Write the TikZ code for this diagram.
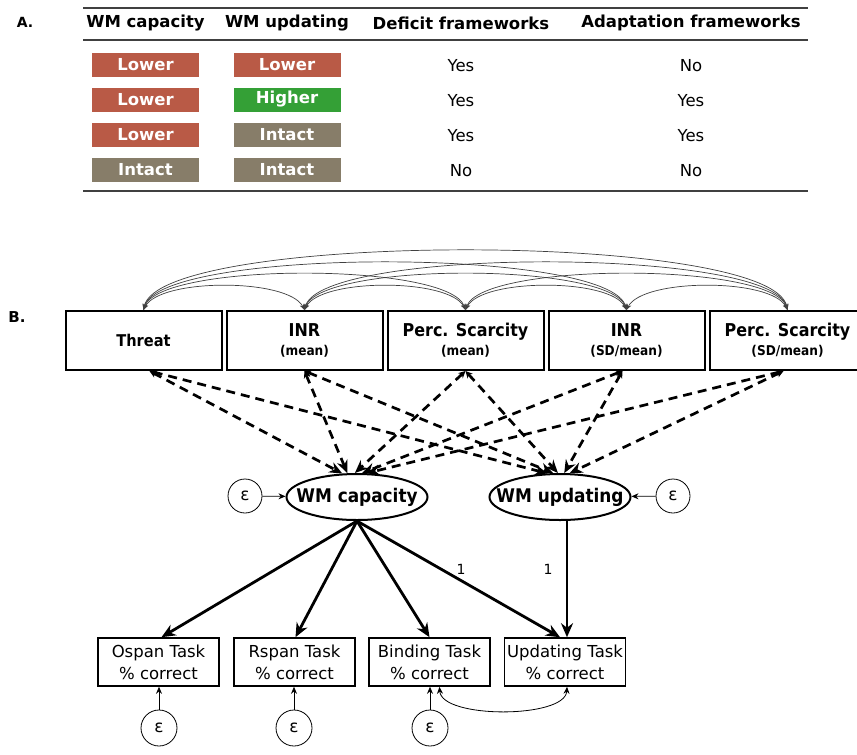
\documentclass[tikz,border=0pt]{standalone}
\usepackage{fontspec}
\setmainfont{DejaVu Sans}
\newfontfamily\condf{DejaVu Sans Condensed}
\usetikzlibrary{shapes.geometric,arrows.meta}
\definecolor{lowc}{HTML}{B95A46}
\definecolor{highc}{HTML}{34A036}
\definecolor{intc}{HTML}{877D69}
\definecolor{rulec}{HTML}{404040}
\begin{document}
\begin{tikzpicture}[x=1pt,y=-1pt,
  cell/.style={fill=#1,minimum width=107pt,minimum height=24pt,inner sep=0pt,text=white,font=\fontsize{16.5}{16.5}\selectfont\bfseries},
  hdr/.style={font=\fontsize{16.5}{16.5}\selectfont\bfseries,inner sep=0pt},
  yn/.style={font=\fontsize{16.5}{16.5}\selectfont,inner sep=0pt},
  tabrule/.style={draw=rulec,line width=#1},
  topbox/.style={draw,line width=2pt,minimum width=156pt,minimum height=59pt,inner sep=0pt,align=center,font=\condf\fontsize{17.7}{20}\selectfont\bfseries},
  lat/.style={ellipse,draw,line width=2pt,minimum width=141pt,minimum height=46pt,inner xsep=-14pt,inner ysep=0pt,font=\condf\fontsize{18.8}{18.8}\selectfont\bfseries},
  err/.style={circle,draw,line width=0.8pt,minimum size=#1,inner sep=0pt,font=\fontsize{17}{17}\selectfont},
  obs/.style={draw,line width=1.6pt,minimum width=121pt,minimum height=48pt,inner sep=0pt,align=center,font=\fontsize{16.5}{22}\selectfont},
  cov/.style={draw=black!75,line width=0.7pt,{Stealth[length=6pt,width=4.5pt]}-{Stealth[length=6pt,width=4.5pt]}},
  reg/.style={line width=2.7pt,dash pattern=on 9pt off 6pt,{Stealth[length=7pt,width=7pt]}-{Stealth[length=13pt,width=11pt]}},
  load/.style={line width=2.8pt,-{Stealth[length=14pt,width=12pt]}},
  errarr/.style={line width=0.8pt,-{Stealth[length=7pt,width=6pt]}},
  lbl/.style={font=\fontsize{14}{14}\selectfont,inner sep=0pt}
]
\useasboundingbox (0,0) rectangle (857,755);

% ---------- Panel A ----------
\node[hdr] (la) at (25,22) {\fontsize{14}{14}\selectfont A.};
\draw[tabrule=2pt] (83,8) -- (808,8);
\draw[tabrule=1.5pt] (83,40) -- (808,40);
\draw[tabrule=2pt] (83,191) -- (808,191);
\node[hdr] (h1) at (145.5,23) {WM capacity};
\node[hdr] (h2) at (287,23) {WM updating};
\node[hdr] (h3) at (461,23) {Deficit frameworks};
\node[hdr] (h4) at (691,23) {Adaptation frameworks};

\node[cell=lowc] (c11) at (145.5,64.5) {Lower};
\node[cell=lowc] (c12) at (287,64.5) {Lower};
\node[yn] (c13) at (461,66) {Yes};
\node[yn] (c14) at (691,66) {No};

\node[cell=lowc] (c21) at (145.5,99.5) {Lower};
\node[cell=highc] (c22) at (287,99.5) {Higher};
\node[yn] (c23) at (461,101) {Yes};
\node[yn] (c24) at (691,101) {Yes};

\node[cell=lowc] (c31) at (145.5,135) {Lower};
\node[cell=intc] (c32) at (287,135) {Intact};
\node[yn] (c33) at (461,136) {Yes};
\node[yn] (c34) at (691,136) {Yes};

\node[cell=intc] (c41) at (145.5,170) {Intact};
\node[cell=intc] (c42) at (287,170) {Intact};
\node[yn] (c43) at (461,171) {No};
\node[yn] (c44) at (691,171) {No};

% ---------- Panel B ----------
\node[hdr] (lb) at (17,317) {\fontsize{15}{15}\selectfont B.};
\node[topbox] (th) at (143.5,340.5) {\fontsize{16.2}{16.2}\selectfont Threat};
\node[topbox] (inm) at (304.5,340.5) {INR\\[-1pt]{\fontsize{13.5}{13.5}\selectfont (mean)}};
\node[topbox] (psm) at (465.5,340.5) {Perc. Scarcity\\[-1pt]{\fontsize{13.5}{13.5}\selectfont (mean)}};
\node[topbox] (insd) at (626.5,340.5) {INR\\[-1pt]{\fontsize{13.5}{13.5}\selectfont (SD/mean)}};
\node[topbox] (pssd) at (787.5,340.5) {Perc. Scarcity\\[-1pt]{\fontsize{13.5}{13.5}\selectfont (SD/mean)}};

% covariances
\draw[cov] (th.north) .. controls +(16,-32) and +(-16,-32) .. (inm.north);
\draw[cov] (inm.north) .. controls +(16,-32) and +(-16,-32) .. (psm.north);
\draw[cov] (psm.north) .. controls +(16,-32) and +(-16,-32) .. (insd.north);
\draw[cov] (insd.north) .. controls +(16,-32) and +(-16,-32) .. (pssd.north);
\draw[cov] (th.north) .. controls +(16,-48) and +(-16,-48) .. (psm.north);
\draw[cov] (inm.north) .. controls +(16,-48) and +(-16,-48) .. (insd.north);
\draw[cov] (psm.north) .. controls +(16,-48) and +(-16,-48) .. (pssd.north);
\draw[cov] (th.north) .. controls +(16,-63) and +(-16,-63) .. (insd.north);
\draw[cov] (inm.north) .. controls +(16,-63) and +(-16,-63) .. (pssd.north);
\draw[cov] (th.north) .. controls +(16,-79) and +(-16,-79) .. (pssd.north);

% latent variables
\node[lat] (wmc) at (357,497) {WM capacity};
\node[lat] (wmu) at (560,497) {WM updating};
\node[err=34pt] (ec) at (245,496) {ε};
\node[err=34pt] (eu) at (673,496) {ε};
\draw[errarr] (ec) -- (wmc);
\draw[errarr] (eu) -- (wmu);

% regressions
\draw[reg] ([xshift=6pt]th.south) -- (wmc.122);
\draw[reg] ([xshift=6pt]th.south) -- (wmu.118);
\draw[reg] (inm.south) -- (wmc.112);
\draw[reg] (inm.south) -- (wmu.106);
\draw[reg] (psm.south) -- (wmc.95);
\draw[reg] (psm.south) -- (wmu.95);
\draw[reg] ([xshift=-4pt]insd.south) -- (wmc.78);
\draw[reg] ([xshift=-4pt]insd.south) -- (wmu.80);
\draw[reg] ([xshift=-4pt]pssd.south) -- (wmc.68);
\draw[reg] ([xshift=-4pt]pssd.south) -- (wmu.68);

% observed
\node[obs] (os) at (158.5,662) {Ospan Task\\\% correct};
\node[obs] (rs) at (294.5,662) {Rspan Task\\\% correct};
\node[obs] (bt) at (429.5,662) {Binding Task\\\% correct};
\node[obs] (ut) at (565,662) {Updating Task\\\% correct};

\draw[load] (wmc.south) -- ([xshift=3pt]os.north);
\draw[load] (wmc.south) -- ([xshift=1pt]rs.north);
\draw[load] (wmc.south) -- (bt.north);
\draw[load] (wmc.south) -- ([xshift=-5pt]ut.north);
\draw[load] ([xshift=7pt]wmu.south) -- ([xshift=2pt]ut.north);
\node[lbl] (l1) at (461,569) {1};
\node[lbl] (l2) at (548,569) {1};

\node[err=36pt] (e1) at (159,728) {ε};
\node[err=36pt] (e2) at (294,728) {ε};
\node[err=36pt] (e3) at (430,728) {ε};
\draw[errarr] (e1) -- (e1 |- os.south);
\draw[errarr] (e2) -- (e2 |- rs.south);
\draw[errarr] (e3) -- (e3 |- bt.south);
\draw[line width=0.8pt,{Stealth[length=7pt,width=6pt]}-{Stealth[length=7pt,width=6pt]}] ([xshift=10pt]bt.south) .. controls +(2,32) and +(-2,32) .. ([xshift=2pt]ut.south);
\end{tikzpicture}
\end{document}
